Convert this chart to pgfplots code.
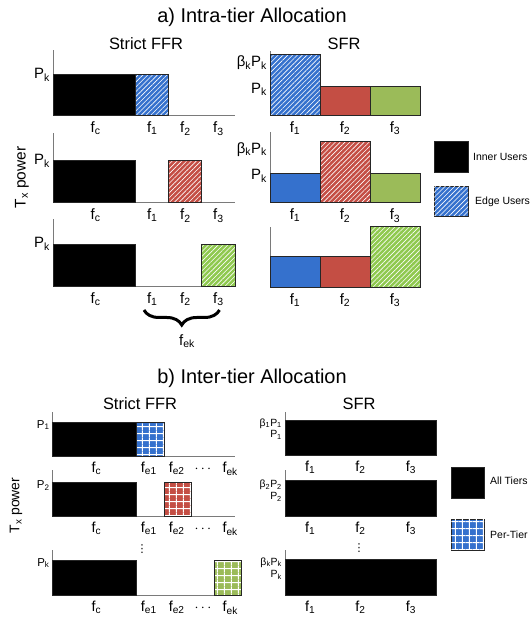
\documentclass[border=0pt]{standalone}
\usepackage{fontspec}
\setmainfont{Liberation Sans}
\newfontfamily\dejavu{DejaVu Sans}
\usepackage{pgfplots}
\pgfplotsset{compat=1.18}
\usetikzlibrary{patterns.meta, decorations.pathreplacing}
\definecolor{cblue}{HTML}{3571CD}
\definecolor{cred}{HTML}{C44E44}
\definecolor{cgreen}{HTML}{9BBB59}
\definecolor{cgreenh}{HTML}{8FC94F}
\definecolor{axgray}{HTML}{7A7A7A}
\definecolor{edge}{HTML}{262626}
\pgfplotsset{
 panel/.style={
  scale only axis, anchor=south west, clip=false,
  axis x line*=bottom, axis y line*=left,
  axis line style={draw=axgray, line width=0.9bp},
  ymin=0, ymax=1, xmin=0,
  major tick length=0pt, tick style={draw=none},
  tick label style={inner sep=0pt},
  xticklabel style={font=\fontsize{15}{17}\selectfont},
  yticklabel style={font=\fontsize{15}{17}\selectfont},
  xticklabel shift=6bp, yticklabel shift=3bp,
 },
 rect/.style={draw=edge, line width=0.9bp, fill=#1},
 hatchfill/.style={postaction={pattern={Lines[angle=45,distance=3.4bp,line width=0.6bp]}, pattern color=#1}},
 gridfill/.style={postaction={pattern={Hatch[distance=6.8bp,line width=0.9bp]}, pattern color=#1}},
 ffrA/.style={xmax=5.5, width=182bp, xtick={1.29,3,4,5},
  xticklabels={f\textsubscript{c}, f\textsubscript{1}, f\textsubscript{2}, f\textsubscript{3}}},
 sfrA/.style={xmax=3, width=150bp, xtick={0.5,1.5,2.5},
  xticklabels={f\textsubscript{1}, f\textsubscript{2}, f\textsubscript{3}}},
 ffrB/.style={xtick={1.6,3.52,4.54,5.5,6.5},
  xticklabels={f\textsubscript{c}, f\textsubscript{e1}, f\textsubscript{e2}, {\vphantom{f}$\cdots$}, f\textsubscript{ek}},
  xticklabel style={font=\fontsize{14.5}{17}\selectfont},
  yticklabel style={font=\fontsize{11.5}{13}\selectfont}},
 sfrB/.style={xmax=3, width=151bp, xtick={0.5,1.5,2.5},
  xticklabels={f\textsubscript{1}, f\textsubscript{2}, f\textsubscript{3}},
  xticklabel style={font=\fontsize{14.5}{17}\selectfont},
  yticklabel style={font=\fontsize{10.5}{12}\selectfont}},
}
\begin{document}
\begin{tikzpicture}[x=1bp,y=1bp]
\useasboundingbox (0,0) rectangle (532,617);

% ---------------- titles a
\node[font=\fontsize{20}{24}\selectfont, anchor=base] at (252,594.3) {a) Intra-tier Allocation};
\node[font=\fontsize{16.5}{20}\selectfont, anchor=base] at (146,567) {Strict FFR};
\node[font=\fontsize{16.5}{20}\selectfont, anchor=base] at (344,567) {SFR};
\node[font=\fontsize{15.5}{18}\selectfont, rotate=90] at (22,439.5) {T\textsubscript{x} power};

% a1
\begin{axis}[panel, ffrA, at={(53bp,501.3bp)}, height=65.7bp,
  ytick={0.62}, yticklabels={P\textsubscript{k}}]
\addplot[rect=black] coordinates {(0,0) (0,0.635) (2.5,0.635) (2.5,0)} -- cycle;
\addplot[rect=cblue, hatchfill=white] coordinates {(2.5,0) (2.5,0.635) (3.5,0.635) (3.5,0)} -- cycle;
\end{axis}
% a2
\begin{axis}[panel, ffrA, at={(53bp,414.3bp)}, height=70bp,
  ytick={0.6}, yticklabels={P\textsubscript{k}}]
\addplot[rect=black] coordinates {(0,0) (0,0.6) (2.5,0.6) (2.5,0)} -- cycle;
\addplot[rect=cred, hatchfill=white] coordinates {(3.5,0) (3.5,0.6) (4.5,0.6) (4.5,0)} -- cycle;
\end{axis}
% a3
\begin{axis}[panel, ffrA, at={(53bp,331bp)}, height=66.7bp,
  ytick={0.63}, yticklabels={P\textsubscript{k}}]
\addplot[rect=black] coordinates {(0,0) (0,0.63) (2.5,0.63) (2.5,0)} -- cycle;
\addplot[rect=cgreenh, hatchfill=white] coordinates {(4.5,0) (4.5,0.63) (5.5,0.63) (5.5,0)} -- cycle;
\end{axis}
% a4
\begin{axis}[panel, sfrA, at={(270bp,501.5bp)}, height=64bp,
  ytick={0.41,0.82}, yticklabels={P\textsubscript{k}, β\textsubscript{k}P\textsubscript{k}}]
\addplot[rect=cblue, hatchfill=white] coordinates {(0,0) (0,0.96) (1,0.96) (1,0)} -- cycle;
\addplot[rect=cred] coordinates {(1,0) (1,0.46) (2,0.46) (2,0)} -- cycle;
\addplot[rect=cgreen] coordinates {(2,0) (2,0.46) (3,0.46) (3,0)} -- cycle;
\end{axis}
% a5
\begin{axis}[panel, sfrA, at={(270bp,414.3bp)}, height=71bp,
  ytick={0.38,0.75}, yticklabels={P\textsubscript{k}, β\textsubscript{k}P\textsubscript{k}}]
\addplot[rect=cblue] coordinates {(0,0) (0,0.414) (1,0.414) (1,0)} -- cycle;
\addplot[rect=cred, hatchfill=white] coordinates {(1,0) (1,0.86) (2,0.86) (2,0)} -- cycle;
\addplot[rect=cgreen] coordinates {(2,0) (2,0.414) (3,0.414) (3,0)} -- cycle;
\end{axis}
% a6
\begin{axis}[panel, sfrA, at={(270bp,329.7bp)}, height=60.6bp, ytick=\empty]
\addplot[rect=cblue] coordinates {(0,0) (0,0.505) (1,0.505) (1,0)} -- cycle;
\addplot[rect=cred] coordinates {(1,0) (1,0.505) (2,0.505) (2,0)} -- cycle;
\addplot[rect=cgreenh, hatchfill=white] coordinates {(2,0) (2,1) (3,1) (3,0)} -- cycle;
\end{axis}

% brace and f_ek
\draw[decorate, decoration={brace, mirror, amplitude=15bp}, line width=3bp] (144,307) -- (219.5,307);
\node[font=\fontsize{15}{17}\selectfont] at (187,276) {f\textsubscript{ek}};

% legend a
\filldraw[fill=black, draw=edge, line width=0.9bp] (434,475.3) rectangle (468,444.3);
\node[anchor=west, inner sep=0pt, font=\fontsize{10.5}{12}\selectfont] at (473,460) {Inner Users};
\filldraw[fill=cblue, draw=edge, line width=0.9bp, postaction={pattern={Lines[angle=45,distance=3.4bp,line width=0.6bp]}, pattern color=white}] (434,431) rectangle (468,401);
\node[anchor=west, inner sep=0pt, font=\fontsize{10.5}{12}\selectfont] at (475,415.3) {Edge Users};

% ---------------- titles b
\node[font=\fontsize{20}{24}\selectfont, anchor=base] at (252,233.7) {b) Inter-tier Allocation};
\node[font=\fontsize{16.5}{20}\selectfont, anchor=base] at (140,207.7) {Strict FFR};
\node[font=\fontsize{16.5}{20}\selectfont, anchor=base] at (359,207.7) {SFR};
\node[font=\fontsize{14}{17}\selectfont, rotate=90] at (16,111.5) {T\textsubscript{x} power};

% b1
\begin{axis}[panel, ffrB, at={(52.7bp,161bp)}, xmax=6.68, width=182.4bp, height=44.3bp,
  ytick={0.7}, yticklabels={P\textsubscript{1}}]
\addplot[rect=black] coordinates {(0,0) (0,0.75) (3.08,0.75) (3.08,0)} -- cycle;
\addplot[rect=cblue, gridfill=white] coordinates {(3.08,0) (3.08,0.75) (4.08,0.75) (4.08,0)} -- cycle;
\end{axis}
% b2
\begin{axis}[panel, ffrB, at={(52.7bp,101bp)}, xmax=6.68, width=182.4bp, height=46bp,
  ytick={0.67}, yticklabels={P\textsubscript{2}}]
\addplot[rect=black] coordinates {(0,0) (0,0.733) (3.08,0.733) (3.08,0)} -- cycle;
\addplot[rect=cred, gridfill=white] coordinates {(4.08,0) (4.08,0.733) (5.08,0.733) (5.08,0)} -- cycle;
\end{axis}
% b3
\begin{axis}[panel, ffrB, at={(52.7bp,22bp)}, xmax=6.92, width=189bp, height=45bp,
  ytick={0.71}, yticklabels={P\textsubscript{k}}]
\addplot[rect=black] coordinates {(0,0) (0,0.767) (3.08,0.767) (3.08,0)} -- cycle;
\addplot[rect=cgreen, gridfill=white] coordinates {(5.92,0) (5.92,0.767) (6.92,0.767) (6.92,0)} -- cycle;
\end{axis}
% b4
\begin{axis}[panel, sfrB, at={(285bp,162bp)}, height=43.3bp,
  ytick={0.46,0.73}, yticklabels={P\textsubscript{1}, β\textsubscript{1}P\textsubscript{1}}]
\addplot[rect=black] coordinates {(0,0) (0,0.79) (3,0.79) (3,0)} -- cycle;
\end{axis}
% b5
\begin{axis}[panel, sfrB, at={(285bp,101bp)}, height=46bp,
  ytick={0.42,0.68}, yticklabels={P\textsubscript{2}, β\textsubscript{2}P\textsubscript{2}}]
\addplot[rect=black] coordinates {(0,0) (0,0.767) (3,0.767) (3,0)} -- cycle;
\end{axis}
% b6
\begin{axis}[panel, sfrB, at={(285bp,22bp)}, height=45bp,
  ytick={0.45,0.72}, yticklabels={P\textsubscript{k}, β\textsubscript{k}P\textsubscript{k}}]
\addplot[rect=black] coordinates {(0,0) (0,0.8) (3,0.8) (3,0)} -- cycle;
\end{axis}

% vertical dots
\node[inner sep=0pt, font=\dejavu\fontsize{11}{12}\selectfont] at (142,68) {⋮};
\node[inner sep=0pt, font=\dejavu\fontsize{11}{12}\selectfont] at (359,69) {⋮};

% legend b
\filldraw[fill=black, draw=edge, line width=0.9bp] (451,150) rectangle (484,119);
\node[anchor=west, inner sep=0pt, font=\fontsize{10.5}{12}\selectfont] at (490,136.3) {All Tiers};
\filldraw[fill=cblue, draw=edge, line width=0.9bp, postaction={pattern={Hatch[distance=6.8bp,line width=0.9bp]}, pattern color=white}] (451,98) rectangle (484,67);
\node[anchor=west, inner sep=0pt, font=\fontsize{10.5}{12}\selectfont] at (490,82) {Per-Tier};
\end{tikzpicture}
\end{document}
